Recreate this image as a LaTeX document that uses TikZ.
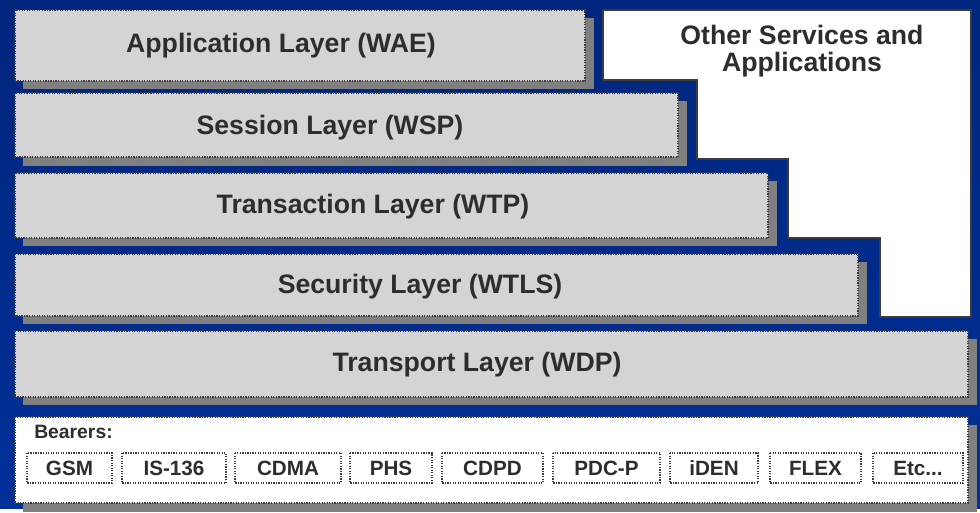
\documentclass[tikz,border=0pt]{standalone}
\usepackage{fontspec}
\setmainfont{Liberation Sans}
\usepackage{tikz}

\definecolor{wapblue}{RGB}{0,48,152}
\definecolor{wapbluetop}{RGB}{0,38,125}
\definecolor{layergray}{RGB}{212,212,212}
\definecolor{shadowgray}{RGB}{128,128,128}
\definecolor{edgegray}{RGB}{60,60,60}
\definecolor{labelgray}{RGB}{45,45,45}

\tikzset{
  layerline/.style={draw=edgegray, densely dotted, line width=0.9pt, fill=layergray},
  whiteline/.style={draw=edgegray, line width=1.5pt, fill=white},
  bearerline/.style={draw=edgegray, densely dotted, line width=0.9pt, fill=white},
  layertext/.style={inner sep=0.75pt, text=labelgray, font=\fontsize{20}{20}\selectfont\bfseries},
  bearertext/.style={inner sep=0.75pt, text=labelgray, font=\fontsize{15.5}{16}\selectfont\bfseries}
}

\begin{document}
\begin{tikzpicture}[x=0.75pt,y=0.75pt,yscale=-1,xscale=1]

            % Background
            \shade [top color=wapbluetop, bottom color=wapblue] (0,0) rectangle (980,508);

            % Shape: Rectangle
            \fill [shadowgray] (23,18) rectangle (594,89);
            \draw [layerline] (15,10) rectangle (585,81);
            % Shape: Rectangle
            \fill [shadowgray] (23,101) rectangle (687,166);
            \draw [layerline] (15,93) rectangle (678,157);
            % Shape: Rectangle
            \fill [shadowgray] (23,181) rectangle (777,246);
            \draw [layerline] (15,173) rectangle (768,238);
            % Shape: Rectangle
            \fill [shadowgray] (23,262) rectangle (867,324);
            \draw [layerline] (15,254) rectangle (858,316);
            % Shape: Rectangle
            \fill [shadowgray] (23,339) rectangle (977,405);
            \draw [layerline] (15,331) rectangle (968,397);
            % Shape: Rectangle
            \fill [shadowgray] (23,425) rectangle (977,512);
            \draw [bearerline] (15,417) rectangle (968,503);

            % Shape: Polygon
            \draw [whiteline] (603,10) -- (971,10) -- (971,317) -- (880,317) -- (880,238) -- (788,238) -- (788,159) -- (697,159) -- (697,80) -- (603,80) -- cycle ;

            % Text Node
            \draw (281,46) node (wae) [layertext] {Application Layer (WAE)};
            % Text Node
            \draw (330,128) node (wsp) [layertext] {Session Layer (WSP)};
            % Text Node
            \draw (373,207) node (wtp) [layertext] {Transaction Layer (WTP)};
            % Text Node
            \draw (420,287) node (wtls) [layertext] {Security Layer (WTLS)};
            % Text Node
            \draw (477,365) node (wdp) [layertext] {Transport Layer (WDP)};
            % Text Node
            \draw (802,51) node (other) [layertext, align=center] {Other Services and\\[0pt]Applications};

            % Text Node
            \draw (33,432) node (bearers) [anchor=west, bearertext, font=\fontsize{14.5}{15}\selectfont\bfseries] {Bearers:};

            % Shape: Rectangle
            \draw [bearerline] (27,453) rectangle (112,483);
            \draw (69.5,468) node (gsm) [bearertext] {GSM};
            % Shape: Rectangle
            \draw [bearerline] (122,453) rectangle (226,483);
            \draw (174,468) node (is136) [bearertext] {IS-136};
            % Shape: Rectangle
            \draw [bearerline] (235,453) rectangle (341,483);
            \draw (288,468) node (cdma) [bearertext] {CDMA};
            % Shape: Rectangle
            \draw [bearerline] (350,453) rectangle (432,483);
            \draw (391,468) node (phs) [bearertext] {PHS};
            % Shape: Rectangle
            \draw [bearerline] (442,453) rectangle (543,483);
            \draw (492.5,468) node (cdpd) [bearertext] {CDPD};
            % Shape: Rectangle
            \draw [bearerline] (553,453) rectangle (660,483);
            \draw (606.5,468) node (pdcp) [bearertext] {PDC-P};
            % Shape: Rectangle
            \draw [bearerline] (670,453) rectangle (758,483);
            \draw (714,468) node (iden) [bearertext] {iDEN};
            % Shape: Rectangle
            \draw [bearerline] (770,453) rectangle (861,483);
            \draw (815.5,468) node (flex) [bearertext] {FLEX};
            % Shape: Rectangle
            \draw [bearerline] (873,453) rectangle (963,483);
            \draw (918,468) node (etc) [bearertext] {Etc...};

            \useasboundingbox (0,0) rectangle (980,508);

        \end{tikzpicture}
\end{document}
